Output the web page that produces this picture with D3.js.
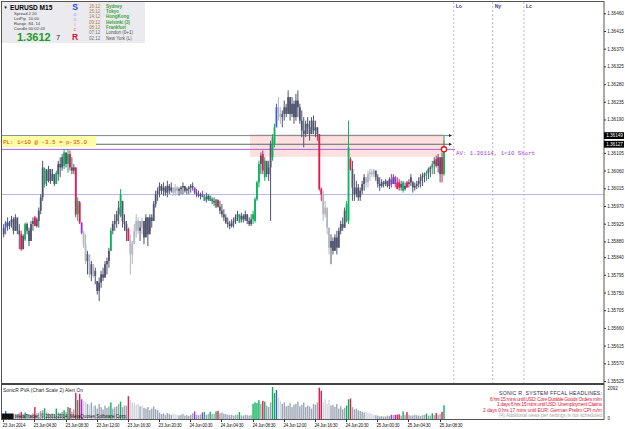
<!doctype html>
<html>
<head>
<meta charset="utf-8">
<script src="https://d3js.org/d3.v7.min.js"></script>
<style>
  body { margin: 0; background: #fff; }
  svg text { font-family: "Liberation Sans", Arial, sans-serif; }
  .mono { font-family: "Liberation Mono", "DejaVu Sans Mono", monospace !important; }
</style>
</head>
<body>
<div id="chart"></div>
<script>

// ---------- data (EURUSD M15) ----------
const barHigh = [
  1.35924,1.35932,1.35941,1.35932,1.35945,1.35941,1.35949,1.35932,1.35924,1.35907,
  1.35898,1.35928,1.35928,1.35915,1.35932,1.35941,1.35945,1.35941,1.35966,1.36000,
  1.36085,1.36068,1.36064,1.36072,1.36060,1.36064,1.36051,1.36060,1.36085,1.36094,
  1.36102,1.36115,1.36106,1.36115,1.36111,1.36094,1.36077,1.36068,1.35992,1.35983,
  1.35928,1.35907,1.35898,1.35856,1.35830,1.35830,1.35822,1.35813,1.35779,1.35788,
  1.35805,1.35813,1.35830,1.35839,1.35864,1.35915,1.35932,1.35949,1.35958,1.35983,
  1.36013,1.35983,1.35949,1.35932,1.35915,1.35898,1.35881,1.35924,1.35949,1.35941,
  1.35932,1.35941,1.35924,1.35949,1.35941,1.35949,1.35949,1.35983,1.36009,1.36017,
  1.36030,1.36026,1.36030,1.36021,1.36034,1.36026,1.36030,1.36017,1.36026,1.36021,
  1.36017,1.36021,1.36030,1.36021,1.36017,1.36021,1.36026,1.36030,1.36017,1.36013,
  1.36009,1.36004,1.36009,1.36000,1.36004,1.36000,1.35996,1.35992,1.35992,1.35987,
  1.35987,1.35983,1.35975,1.35962,1.35949,1.35941,1.35932,1.35936,1.35941,1.35949,
  1.35958,1.35949,1.35953,1.35949,1.35958,1.35949,1.35941,1.35949,1.35958,1.35992,
  1.36034,1.36085,1.36106,1.36111,1.36094,1.36077,1.36085,1.36136,1.36153,1.36179,
  1.36230,1.36247,1.36221,1.36213,1.36238,1.36230,1.36264,1.36238,1.36247,1.36238,
  1.36255,1.36264,1.36230,1.36213,1.36196,1.36187,1.36196,1.36187,1.36196,1.36200,
  1.36187,1.36170,1.36153,1.36017,1.36009,1.35983,1.35958,1.35915,1.35898,1.35890,
  1.35898,1.35907,1.35915,1.35932,1.35941,1.35966,1.35983,1.36187,1.36094,1.36085,
  1.36051,1.36034,1.36026,1.36017,1.36034,1.36051,1.36043,1.36060,1.36064,1.36064,
  1.36064,1.36060,1.36051,1.36043,1.36038,1.36034,1.36038,1.36034,1.36043,1.36051,
  1.36051,1.36047,1.36043,1.36038,1.36034,1.36034,1.36030,1.36034,1.36038,1.36051,
  1.36034,1.36030,1.36034,1.36043,1.36051,1.36055,1.36055,1.36060,1.36068,1.36072,
  1.36085,1.36094,1.36098,1.36102,1.36085,1.36106,1.36149
];
const barLow = [
  1.35890,1.35898,1.35907,1.35911,1.35915,1.35898,1.35907,1.35898,1.35860,1.35856,
  1.35860,1.35881,1.35898,1.35868,1.35881,1.35907,1.35919,1.35915,1.35915,1.35949,
  1.35983,1.36017,1.36021,1.36030,1.36026,1.36034,1.36021,1.36026,1.36034,1.36043,
  1.36060,1.36064,1.36068,1.36055,1.36060,1.36051,1.36051,1.35941,1.35932,1.35924,
  1.35898,1.35864,1.35822,1.35796,1.35788,1.35779,1.35788,1.35771,1.35745,1.35728,
  1.35762,1.35779,1.35788,1.35796,1.35813,1.35856,1.35898,1.35907,1.35915,1.35924,
  1.35941,1.35915,1.35907,1.35881,1.35881,1.35796,1.35822,1.35873,1.35890,1.35898,
  1.35881,1.35898,1.35873,1.35898,1.35868,1.35907,1.35915,1.35932,1.35966,1.35983,
  1.35992,1.36000,1.35996,1.35996,1.35992,1.36000,1.36004,1.35996,1.35996,1.36000,
  1.35996,1.36000,1.36000,1.36004,1.36000,1.36000,1.36004,1.36009,1.36000,1.35992,
  1.35992,1.35987,1.35992,1.35983,1.35979,1.35983,1.35983,1.35975,1.35970,1.35966,
  1.35966,1.35949,1.35941,1.35932,1.35924,1.35915,1.35911,1.35915,1.35915,1.35924,
  1.35932,1.35928,1.35928,1.35928,1.35932,1.35924,1.35919,1.35919,1.35924,1.35928,
  1.35983,1.36017,1.36051,1.36051,1.36034,1.36043,1.36034,1.35932,1.36085,1.36119,
  1.36170,1.36187,1.36179,1.36170,1.36187,1.36196,1.36213,1.36187,1.36196,1.36179,
  1.36187,1.36196,1.36179,1.36145,1.36119,1.36145,1.36153,1.36136,1.36153,1.36153,
  1.36145,1.36136,1.36009,1.35983,1.35932,1.35941,1.35898,1.35847,1.35822,1.35847,
  1.35856,1.35847,1.35864,1.35898,1.35907,1.35915,1.35928,1.35924,1.36060,1.35983,
  1.35983,1.35992,1.35983,1.35983,1.36000,1.36009,1.36017,1.36017,1.36034,1.36043,
  1.36043,1.36034,1.36017,1.36009,1.36017,1.36017,1.36021,1.36017,1.36013,1.36017,
  1.36026,1.36017,1.36013,1.36009,1.36009,1.36004,1.36009,1.36017,1.36017,1.36021,
  1.36004,1.36009,1.36013,1.36017,1.36017,1.36021,1.36030,1.36034,1.36038,1.36043,
  1.36051,1.36051,1.36068,1.36055,1.36030,1.36030,1.36047
];
const barOpen = [
  1.35898,1.35915,1.35928,1.35919,1.35928,1.35936,1.35907,1.35941,1.35907,1.35898,
  1.35860,1.35885,1.35924,1.35907,1.35881,1.35924,1.35941,1.35919,1.35932,1.35958,
  1.35992,1.36026,1.36060,1.36034,1.36064,1.36034,1.36051,1.36026,1.36051,1.36077,
  1.36068,1.36072,1.36106,1.36077,1.36102,1.36068,1.36060,1.36068,1.35949,1.35979,
  1.35928,1.35902,1.35873,1.35830,1.35847,1.35796,1.35822,1.35792,1.35779,1.35754,
  1.35775,1.35796,1.35788,1.35822,1.35830,1.35856,1.35907,1.35924,1.35932,1.35949,
  1.35945,1.35983,1.35932,1.35924,1.35911,1.35881,1.35847,1.35873,1.35907,1.35932,
  1.35907,1.35915,1.35932,1.35890,1.35941,1.35898,1.35941,1.35932,1.35975,1.36000,
  1.36009,1.36021,1.36009,1.36017,1.36004,1.36021,1.36009,1.36017,1.36004,1.36017,
  1.36009,1.36013,1.36017,1.36021,1.36009,1.36013,1.36017,1.36021,1.36017,1.36004,
  1.36000,1.35996,1.36000,1.35983,1.35992,1.35987,1.35983,1.35987,1.35983,1.35966,
  1.35985,1.35968,1.35958,1.35949,1.35941,1.35928,1.35924,1.35919,1.35928,1.35932,
  1.35941,1.35928,1.35936,1.35945,1.35936,1.35949,1.35932,1.35924,1.35936,1.35932,
  1.35987,1.36030,1.36077,1.36102,1.36043,1.36085,1.36051,1.36068,1.36094,1.36128,
  1.36170,1.36221,1.36204,1.36196,1.36204,1.36221,1.36204,1.36247,1.36204,1.36230,
  1.36196,1.36238,1.36221,1.36187,1.36162,1.36153,1.36179,1.36170,1.36153,1.36187,
  1.36162,1.36170,1.36153,1.36013,1.36000,1.35949,1.35966,1.35915,1.35864,1.35881,
  1.35856,1.35890,1.35864,1.35907,1.35924,1.35915,1.35932,1.35932,1.36089,1.36064,
  1.36017,1.36000,1.36017,1.35992,1.36009,1.36026,1.36043,1.36030,1.36051,1.36055,
  1.36051,1.36060,1.36043,1.36026,1.36021,1.36030,1.36026,1.36034,1.36021,1.36038,
  1.36026,1.36043,1.36030,1.36030,1.36017,1.36009,1.36013,1.36030,1.36026,1.36030,
  1.36030,1.36017,1.36021,1.36026,1.36034,1.36043,1.36047,1.36051,1.36055,1.36064,
  1.36068,1.36077,1.36089,1.36072,1.36094,1.36094,1.36051
];
const barClose = [
  1.35915,1.35928,1.35919,1.35928,1.35936,1.35907,1.35941,1.35907,1.35898,1.35860,
  1.35894,1.35924,1.35907,1.35881,1.35924,1.35932,1.35919,1.35936,1.35958,1.35992,
  1.36068,1.36064,1.36034,1.36064,1.36034,1.36051,1.36026,1.36055,1.36077,1.36068,
  1.36094,1.36106,1.36077,1.36102,1.36068,1.36060,1.36068,1.35949,1.35983,1.35928,
  1.35902,1.35873,1.35830,1.35847,1.35796,1.35822,1.35792,1.35805,1.35754,1.35775,
  1.35796,1.35788,1.35822,1.35830,1.35856,1.35907,1.35924,1.35932,1.35949,1.35966,
  1.36000,1.35932,1.35924,1.35907,1.35881,1.35847,1.35873,1.35907,1.35932,1.35907,
  1.35915,1.35932,1.35890,1.35941,1.35898,1.35941,1.35932,1.35975,1.36000,1.36009,
  1.36021,1.36009,1.36017,1.36004,1.36021,1.36009,1.36017,1.36004,1.36017,1.36009,
  1.36013,1.36017,1.36021,1.36009,1.36013,1.36017,1.36021,1.36017,1.36004,1.36000,
  1.35996,1.36000,1.35993,1.35996,1.35987,1.35996,1.35996,1.35983,1.35979,1.35987,
  1.35968,1.35958,1.35949,1.35941,1.35928,1.35924,1.35919,1.35928,1.35932,1.35941,
  1.35949,1.35949,1.35945,1.35936,1.35949,1.35932,1.35924,1.35936,1.35949,1.35987,
  1.36030,1.36077,1.36098,1.36060,1.36085,1.36051,1.36068,1.36128,1.36145,1.36170,
  1.36221,1.36204,1.36196,1.36204,1.36221,1.36204,1.36247,1.36204,1.36230,1.36196,
  1.36238,1.36221,1.36187,1.36162,1.36153,1.36179,1.36170,1.36153,1.36187,1.36162,
  1.36170,1.36153,1.36013,1.36000,1.35949,1.35966,1.35915,1.35864,1.35881,1.35856,
  1.35890,1.35864,1.35907,1.35924,1.35915,1.35958,1.35975,1.36119,1.36064,1.36017,
  1.36000,1.36017,1.35992,1.36009,1.36026,1.36043,1.36030,1.36051,1.36055,1.36051,
  1.36060,1.36043,1.36026,1.36021,1.36030,1.36026,1.36034,1.36021,1.36038,1.36026,
  1.36043,1.36026,1.36013,1.36017,1.36026,1.36030,1.36021,1.36017,1.36030,1.36043,
  1.36017,1.36021,1.36026,1.36034,1.36043,1.36047,1.36051,1.36055,1.36064,1.36068,
  1.36077,1.36085,1.36072,1.36094,1.36051,1.36051,1.36113
];
// PVA class per bar: n normal, l light, g bull climax, r bear climax, b bull rising, p bear rising
const barType = (
  "nbnnnnnnnr" + "ngnnnnrnnn" + "ngnnnnngnn" + "ngngrnnrgr" + "pllnlnlnnn" +
  "nnnnngnnnn" + "gnnnrlllll" + "nlnnnnnnnn" + "nnnnnnnlll" + "nnnnnnnnpn" +
  "nnpgnngnng" + "rnnnnnnnnn" + "ngnnnnnngg" + "ggnrgnnngg" + "bllnnnnnnn" +
  "nnnnnnnnnn" + "nnrrllllnn" + "nnnnnnggrn" + "nnnnnnllll" + "lnnnnnnnnp" +
  "nprrngnrnn" + "nnnnnnngnn" + "gnrnnrg"
).split("");
const volume = [
  350,550,300,250,300,350,280,320,400,480,
  350,450,300,350,320,400,800,400,450,550,
  600,720,450,400,350,380,330,700,450,420,
  500,600,480,800,750,500,650,1720,1250,1650,
  1300,1200,1150,1000,950,1100,850,900,700,1000,
  800,650,900,750,850,1100,700,800,850,1000,
  1150,800,900,900,1500,1250,1100,1050,950,1000,
  850,900,750,700,800,600,700,850,650,600,
  450,350,400,300,420,350,300,380,320,300,
  260,300,350,250,280,230,300,400,520,300,
  280,320,450,480,300,350,500,350,380,520,
  560,400,450,380,350,300,280,300,250,300,
  320,480,260,250,300,280,250,300,1000,1100,
  1050,1250,1000,1200,1150,900,800,1100,2092,1700,
  1900,1400,1200,1000,1100,850,900,1050,800,950,
  1000,1150,850,950,1100,800,900,850,700,1000,
  950,1100,2050,1850,1100,1300,1000,1250,900,950,
  800,1000,700,850,650,750,900,1300,1350,800,
  650,700,600,550,500,450,480,400,420,350,
  300,280,250,200,220,180,200,250,220,300,
  280,300,320,330,250,520,300,480,280,250,
  260,300,280,250,220,280,300,380,250,260,
  400,280,420,300,350,500,920
];

const priceTicks = [1.36460,1.36415,1.36370,1.36325,1.36280,1.36235,1.36190,1.36105,1.36060,1.36015,
  1.35970,1.35925,1.35880,1.35840,1.35795,1.35750,1.35705,1.35660,1.35615,1.35570,1.35525];
const timeTickBars = [0,16,32,48,64,80,96,112,128,144,160,176,192,208,224];
const timeLabels = ["23 Jun 2014","23 Jun 04:30","23 Jun 08:30","23 Jun 12:00","23 Jun 16:30",
  "23 Jun 20:30","24 Jun 00:30","24 Jun 04:30","24 Jun 08:30","24 Jun 12:00","24 Jun 16:30",
  "24 Jun 20:30","25 Jun 00:30","25 Jun 04:30","25 Jun 08:30"];
const markedPrices = [1.36149, 1.36127];
const avPrice = 1.36114;
const roundLevel = 1.36000;
const zonePrices = [1.36153, 1.36095];
const zoneBars = [126.7, 226.3];
const sessionBars = [231, 251, 267];
const sessionNames = ["Lo", "Ny", "Lc"];
const volMax = 2092;

const sessions = [["Sydney","16:12",1],["Tokyo","15:12",1],["HongKong","14:12",1],["Helsinki (3)","09:12",1],
  ["Frankfurt","08:12",1],["London (0+1)","07:12",0],["New York (L)","02:12",0]];
const infoRows = [["Spread","2.20"],["LotPip","10.00"],["Range","84, 14"],["Candle","00:02:43"]];
const headlines = ["6 hrs 15 mins until USD: Core Durable Goods Orders m/m",
  "1 days 6 hrs 15 mins until USD: Unemployment Claims",
  "2 days 0 hrs 17 mins until EUR: German Prelim CPI m/m"];

// ---------- layout ----------
const W = 625, H = 429;
const axisX = 604, mainBottom = 384, volTop = 387, volBottom = 419.5;
const axisFont = 4.6;

const svg = d3.select("#chart").append("svg").attr("width", W).attr("height", H);

const x = d3.scaleLinear().domain([0, 226]).range([3.2, 443.5]);
const y = d3.scaleLinear().domain([1.35525, 1.36460]).range([381, 13.3]);
const yv = d3.scaleLinear().domain([0, volMax]).range([volBottom, volTop]);

const bars = barHigh.map((h, i) => ({i: i, h: h, l: barLow[i], o: barOpen[i], c: barClose[i], t: barType[i], v: volume[i]}));

const candleColor = {n: "#50546e", l: "#b3b6c0", g: "#0bb35c", r: "#e3194f", b: "#3c5fe0", p: "#9b30f0"};
const volColor = {n: "#9ea6b6", l: "#d1d6de", g: "#0bb35c", r: "#e3194f", b: "#3c5fe0", p: "#9b30f0"};

// zone
svg.append("rect")
    .attr("x", x(zoneBars[0])).attr("width", x(zoneBars[1]) - x(zoneBars[0]))
    .attr("y", y(zonePrices[0])).attr("height", y(zonePrices[1]) - y(zonePrices[0]))
    .attr("fill", "#fde0df");

// session lines
sessionBars.forEach((b, k) => {
    svg.append("line").attr("x1", x(b) + 0.5).attr("x2", x(b) + 0.5).attr("y1", 2).attr("y2", mainBottom - 1)
        .attr("stroke", "#bdbdbd").attr("stroke-dasharray", "2,2");
    svg.append("text").attr("x", x(b) + 2.5).attr("y", 8).text(sessionNames[k])
        .attr("font-size", 5).attr("font-weight", "bold").attr("fill", "#3a3a8c");
});

// horizontal levels
svg.append("line").attr("x1", 2).attr("x2", axisX).attr("y1", Math.round(y(roundLevel)) + 0.5).attr("y2", Math.round(y(roundLevel)) + 0.5)
    .attr("stroke", "#b8b8f0").attr("stroke-width", 1);
svg.append("line").attr("x1", 2).attr("x2", 450).attr("y1", y(markedPrices[0])).attr("y2", y(markedPrices[0]))
    .attr("stroke", "#7d8787").attr("stroke-width", 1);
svg.append("line").attr("x1", 96).attr("x2", 450).attr("y1", y(markedPrices[1])).attr("y2", y(markedPrices[1]))
    .attr("stroke", "#5f6b6b").attr("stroke-width", 1);
svg.append("line").attr("x1", 2).attr("x2", 455).attr("y1", y(avPrice)).attr("y2", y(avPrice))
    .attr("stroke", "#a860d8").attr("stroke-width", 1);
markedPrices.forEach(p => {
    svg.append("path").attr("d", `M449,${y(p) - 1.5}L452,${y(p)}L449,${y(p) + 1.5}Z`).attr("fill", "#222");
});

// PL label
svg.append("rect").attr("x", 2).attr("y", 136).attr("width", 94).attr("height", 11).attr("fill", "#ffffa6");
svg.append("text").attr("class", "mono").attr("x", 3).attr("y", 143.8).text("PL: 1<10 @ -3.5 = p-35.0")
    .attr("font-size", 5.9).attr("fill", "#e0400a").attr("textLength", 84);

// candles
const gBars = svg.append("g");
gBars.selectAll("line").data(bars).join("line")
    .attr("x1", d => x(d.i) + 0.5).attr("x2", d => x(d.i) + 0.5)
    .attr("y1", d => y(d.h)).attr("y2", d => y(d.l))
    .attr("stroke", d => candleColor[d.t]).attr("stroke-width", 1);
gBars.selectAll("rect").data(bars).join("rect")
    .attr("x", d => x(d.i) - 0.4).attr("width", 1.8)
    .attr("y", d => y(Math.max(d.o, d.c)))
    .attr("height", d => Math.max(1, Math.abs(y(d.o) - y(d.c))))
    .attr("fill", d => candleColor[d.t]);

// current-price marker
svg.append("line").attr("x1", x(226) + 0.5).attr("x2", x(226) + 0.5).attr("y1", y(markedPrices[0]) + 5).attr("y2", y(avPrice) - 2)
    .attr("stroke", "#e02020").attr("stroke-dasharray", "1,1");
svg.append("circle").attr("cx", x(226) + 0.5).attr("cy", y(avPrice)).attr("r", 2.6)
    .attr("fill", "#fff").attr("stroke", "#e01818").attr("stroke-width", 1.3);
svg.append("text").attr("class", "mono").attr("x", 456).attr("y", y(avPrice) + 6)
    .text("AV: 1.36114, 1<10 Short").attr("font-size", 5.7).attr("fill", "#a040e0").attr("textLength", 79);

// volume bars
svg.append("g").selectAll("rect").data(bars).join("rect")
    .attr("x", d => x(d.i) - 0.2).attr("width", 1.4)
    .attr("y", d => yv(d.v)).attr("height", d => yv(0) - yv(d.v))
    .attr("fill", d => volColor[d.t]);

// frames
svg.append("rect").attr("x", 1.5).attr("y", 1.5).attr("width", axisX - 1.5).attr("height", volBottom - 1.5)
    .attr("fill", "none").attr("stroke", "#555").attr("stroke-width", 1);
svg.append("line").attr("x1", 1).attr("x2", axisX).attr("y1", mainBottom).attr("y2", mainBottom)
    .attr("stroke", "#444").attr("stroke-width", 1.8);

// price axis
const yAxis = svg.append("g").attr("transform", `translate(${axisX},0)`)
    .call(d3.axisRight(y).tickValues(priceTicks).tickFormat(d3.format(".5f")).tickSize(2).tickPadding(1.2));
yAxis.select(".domain").remove();
yAxis.selectAll("line").attr("stroke", "#333");
yAxis.selectAll("text").attr("font-size", axisFont).attr("fill", "#222").attr("font-family", "Liberation Sans, Arial, sans-serif");
markedPrices.forEach(p => {
    svg.append("rect").attr("x", axisX).attr("y", y(p) - 3.4).attr("width", 20).attr("height", 6.8).attr("fill", "#000");
    svg.append("text").attr("x", axisX + 2.2).attr("y", y(p) + 1.7).text(d3.format(".5f")(p))
        .attr("font-size", axisFont).attr("fill", "#fff");
});

// volume axis labels
svg.append("text").attr("x", axisX + 3.5).attr("y", volTop + 2.5).text(volMax).attr("font-size", axisFont).attr("fill", "#222");
svg.append("text").attr("x", axisX + 3.5).attr("y", volBottom).text("0").attr("font-size", axisFont).attr("fill", "#222");

// time axis
const gx = svg.append("g");
timeTickBars.forEach((b, k) => {
    const tx = Math.round(x(b)) + 0.5;
    gx.append("line").attr("x1", tx).attr("x2", tx).attr("y1", volBottom).attr("y2", volBottom + 2.5).attr("stroke", "#333");
    gx.append("text").attr("x", tx - 1).attr("y", 426.8).text(timeLabels[k])
        .attr("font-size", 4.6).attr("fill", "#222").attr("textLength", 23);
});

// indicator texts
svg.append("text").attr("x", 3).attr("y", 391.5).text("SonicR PVA (Chart Scale 2)  Alert On")
    .attr("font-size", 4.8).attr("fill", "#222").attr("textLength", 80);
svg.append("rect").attr("x", 2).attr("y", 413.5).attr("width", 11.5).attr("height", 5.5).attr("fill", "#111");
svg.append("text").attr("x", 15).attr("y", 418.3).text("MetaTrader, \u00a9 2001-2014, MetaQuotes Software Corp.")
    .attr("font-size", 4.6).attr("fill", "#111").attr("textLength", 112);
svg.append("text").attr("x", 602).attr("y", 394.5).attr("text-anchor", "end").text("SONIC R. SYSTEM  FFCAL HEADLINES:")
    .attr("font-size", 5.2).attr("fill", "#2c2c48").attr("textLength", 103);
headlines.forEach((t, k) => {
    svg.append("text").attr("x", 602).attr("y", 400.5 + k * 5.5).attr("text-anchor", "end").text(t)
        .attr("font-size", 5).attr("fill", "#e2203c").attr("textLength", [112, 105, 119][k]);
});
svg.append("text").attr("x", 602).attr("y", 417).attr("text-anchor", "end")
    .text("(4) Additional news per settings is not scheduled")
    .attr("font-size", 5).attr("fill", "#a8a8a8").attr("textLength", 103);

// info panel
const info = svg.append("g");
info.append("rect").attr("x", 2).attr("y", 2).attr("width", 143).attr("height", 41).attr("fill", "#ebebef");
info.append("text").attr("x", 3.5).attr("y", 8.5).text("\u25BC").attr("font-size", 4.2).attr("fill", "#000");
info.append("text").attr("x", 10).attr("y", 9.5).text("EURUSD").attr("font-size", 6.6).attr("font-weight", "bold").attr("fill", "#000");
info.append("text").attr("x", 39.5).attr("y", 9.5).text("M15").attr("font-size", 6.6).attr("font-weight", "bold").attr("fill", "#000");
infoRows.forEach((r, k) => {
    info.append("text").attr("x", 14).attr("y", 15.3 + k * 5).text(r[0]).attr("font-size", 4.2).attr("fill", "#404040");
    info.append("text").attr("x", 28.5).attr("y", 15.3 + k * 5).text(r[1]).attr("font-size", 4.2).attr("fill", "#404040");
});
info.append("text").attr("x", 17).attr("y", 40.5).text("1.3612").attr("font-size", 11).attr("font-weight", "bold").attr("fill", "#1e9a28");
info.append("text").attr("x", 56).attr("y", 40).text("7").attr("font-size", 7.5).attr("fill", "#333");
const sonic = [["S", "#2343d8", 8.5, "bold"], ["o", "#9ea4f5", 5, "normal"], ["n", "#ae9aee", 5, "normal"],
    ["i", "#ff7d8d", 5, "normal"], ["c", "#ff5a6e", 5, "normal"], ["R", "#e0102a", 8.5, "bold"]];
[9.5, 15.5, 20.5, 25.5, 30.5, 40].forEach((yy, k) => {
    info.append("text").attr("x", 75).attr("y", yy).attr("text-anchor", "middle").text(sonic[k][0])
        .attr("font-size", sonic[k][2]).attr("font-weight", sonic[k][3]).attr("fill", sonic[k][1]);
});
sessions.forEach((s, k) => {
    const yy = 7.7 + k * 5.3;
    info.append("text").attr("x", 89).attr("y", yy).text(s[1]).attr("font-size", 4.5).attr("fill", s[2] ? "#b07838" : "#707070");
    info.append("text").attr("x", 106).attr("y", yy).text(s[0]).attr("font-size", 4.5)
        .attr("font-weight", s[2] ? "bold" : "normal").attr("fill", s[2] ? "#36a436" : "#4e4e4e");
});

</script>
</body>
</html>
